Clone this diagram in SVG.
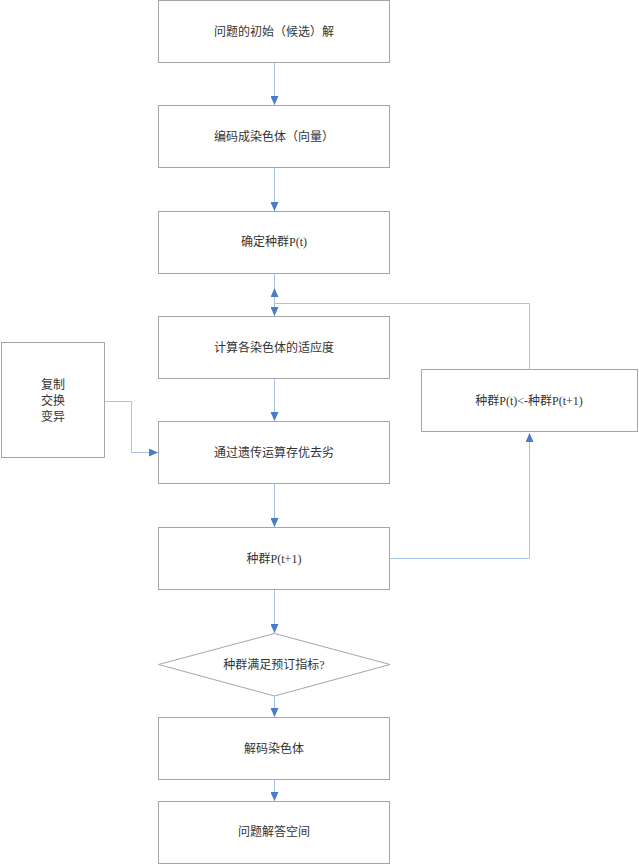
<svg xmlns="http://www.w3.org/2000/svg" width="639" height="865" viewBox="0 0 639 865">
<defs>
<style>
.n{fill:#fff;stroke:#a6a6a6;stroke-width:1}
.t{font-family:"Liberation Serif","Noto Sans CJK SC",serif;font-size:12px;fill:#333;text-anchor:middle;dominant-baseline:central}
.c{fill:none;stroke:#a9c4ea;stroke-width:1}
</style>
<marker id="a" markerWidth="10" markerHeight="8" refX="9" refY="4" orient="auto" markerUnits="userSpaceOnUse">
<path d="M0,0 L9,4 L0,8 Z" fill="#4a7cc9"/>
</marker>
</defs>
<rect width="639" height="865" fill="#fff"/>
<g id="connectors">
<path class="c" d="M274.5,63 V105" marker-end="url(#a)"/>
<path class="c" d="M274.5,168 V211" marker-end="url(#a)"/>
<path class="c" d="M274.5,274 V316" marker-end="url(#a)"/>
<path class="c" d="M529.5,369 V303.5 H274.5 V288" marker-end="url(#a)"/>
<path class="c" d="M274.5,379 V421" marker-end="url(#a)"/>
<path class="c" d="M105,401.5 H131.5 V452.5 H158" marker-end="url(#a)"/>
<path class="c" d="M274.5,484 V527" marker-end="url(#a)"/>
<path class="c" d="M390,558.5 H529.5 V433" marker-end="url(#a)"/>
<path class="c" d="M274.5,590 V633" marker-end="url(#a)"/>
<path class="c" d="M274.5,696 V717" marker-end="url(#a)"/>
<path class="c" d="M274.5,780 V801" marker-end="url(#a)"/>
</g>
<g id="n1"><rect class="n" x="158.5" y="0.5" width="231" height="62"/><text class="t" x="274" y="32">问题的初始（候选）解</text></g>
<g id="n2"><rect class="n" x="158.5" y="105.5" width="231" height="62"/><text class="t" x="274" y="137">编码成染色体（向量）</text></g>
<g id="n3"><rect class="n" x="158.5" y="211.5" width="231" height="62"/><text class="t" x="274" y="242">确定种群P(t)</text></g>
<g id="n4"><rect class="n" x="158.5" y="316.5" width="231" height="62"/><text class="t" x="274" y="348">计算各染色体的适应度</text></g>
<g id="n5"><rect class="n" x="158.5" y="421.5" width="231" height="62"/><text class="t" x="274" y="453">通过遗传运算存优去劣</text></g>
<g id="n6"><rect class="n" x="158.5" y="527.5" width="231" height="62"/><text class="t" x="274" y="559">种群P(t+1)</text></g>
<g id="n7"><path class="n" d="M274.5,633.5 L390,664.5 L274.5,696 L158.5,664.5 Z"/><text class="t" x="274" y="665">种群满足预订指标?</text></g>
<g id="n8"><rect class="n" x="158.5" y="717.5" width="231" height="62"/><text class="t" x="274" y="749">解码染色体</text></g>
<g id="n9"><rect class="n" x="158.5" y="801.5" width="231" height="62"/><text class="t" x="274" y="832">问题解答空间</text></g>
<g id="n10"><rect class="n" x="421.5" y="369.5" width="216" height="62"/><text class="t" x="529" y="401">种群P(t)&lt;-种群P(t+1)</text></g>
<g id="n11"><rect class="n" x="1.5" y="342.5" width="103" height="115"/><text class="t" x="53" y="385">复制</text><text class="t" x="53" y="401">交换</text><text class="t" x="53" y="417">变异</text></g>
</svg>
